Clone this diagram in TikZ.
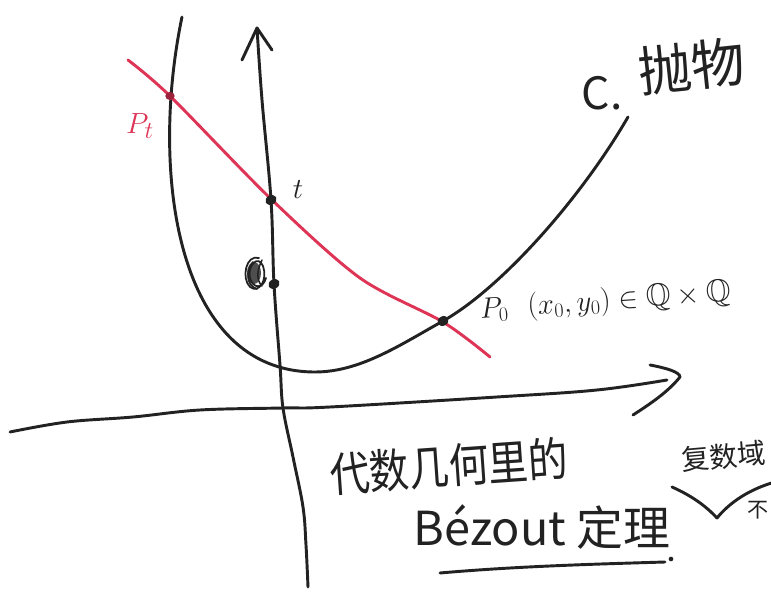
\documentclass[tikz,border=0pt]{standalone}
\usepackage{fontspec}
\usepackage{amssymb}
\newfontfamily\cjk{Noto Sans CJK SC}
\definecolor{ink}{RGB}{34,34,34}
\definecolor{redink}{RGB}{222,52,86}
\usetikzlibrary{shapes.geometric}
\tikzset{
  pen/.style={line width=2.5pt, draw=ink, line cap=round, line join=round},
  redpen/.style={line width=2.5pt, draw=redink, line cap=round, line join=round},
  dotmark/.style={ellipse, fill=ink, inner sep=0pt, minimum width=10pt, minimum height=8pt, rotate=30},
  lbl/.style={inner sep=0pt, text=ink},
}
\begin{document}
\begin{tikzpicture}[x=0.03cm,y=-0.03cm]
\useasboundingbox (0,0) rectangle (771,597);
\fill[white] (0,0) rectangle (771,597);
\clip (0,0) rectangle (771,597);

% named points
\coordinate (ytip) at (257,28);
\coordinate (xtip) at (680,377);
\coordinate (cT) at (271,200);
\coordinate (cQ) at (274,284);
\coordinate (cP0) at (443,321);
\coordinate (cPt) at (170,96);
\coordinate (ctop) at (182,17);
\coordinate (cmin) at (315,372);
\coordinate (cend) at (628,117);

% x-axis
\draw[pen] plot[smooth, tension=0.6] coordinates {(10,432) (67,422) (133,417) (200,410) (283,408) (330,407) (497,397) (597,390) (667,380)};
\draw[pen] (650,365) .. controls (666,368) and (680,372) .. (xtip) .. controls (668,392) and (650,404) .. (633,415);

% y-axis
\draw[pen] plot[smooth, tension=0.6] coordinates {(308,587) (306,545) (303,507) (293,457) (283,408) (280,365) (274,284) (271,200) (262,100) (257,28)};
\draw[pen] (242,60) -- (ytip) -- (272,50);

% parabola C
\draw[pen] (ctop) .. controls (150,170) and (175,372) .. (cmin)
  .. controls (360,372) and (400,345) .. (cP0)
  .. controls (500,289) and (580,200) .. (cend);

% red line
\draw[redpen] plot[smooth, tension=0.5] coordinates {(128,60) (170,96) (271,199) (360,278) (443,322) (490,357)};

% dots
\node[dotmark] (t) at (cT) {};
\node[dotmark] (q) at (cQ) {};
\node[dotmark] (P0) at (cP0) {};
\node[ellipse, fill=redink!70!black, inner sep=0pt, minimum width=8pt, minimum height=7pt] (Pt) at (cPt) {};

% scribble near lower dot
\fill[ink!80] (254,273) ellipse (7 and 11);
\draw[pen, line width=1.5pt] (259,258) .. controls (246,254) and (241,278) .. (250,287) .. controls (259,294) and (268,280) .. (263,266) .. controls (258,254) and (247,266) .. (250,278) .. controls (253,289) and (263,289) .. (266,278);
\draw[pen, line width=1.5pt] (253,262) .. controls (245,272) and (247,286) .. (257,289);
\draw[pen, line width=1.3pt] (262,260) .. controls (257,270) and (256,280) .. (262,286);

% labels
\node[lbl, text=redink, font=\fontsize{30}{32}\selectfont] (ptlabel) at (140,126) {$P_t$};
\node[lbl, font=\fontsize{30}{32}\selectfont] (tlabel) at (298,190) {$t$};
\node[lbl, anchor=west, rotate=4, font=\fontsize{27}{30}\selectfont] (p0label) at (480,311) {$P_0\ \ (x_0,y_0)\in\mathbb{Q}\times\mathbb{Q}$};
\node[lbl, font=\cjk\fontsize{38}{42}\selectfont] (clabel) at (602,93) {C.};
\node[lbl, anchor=west, rotate=6, font=\cjk\fontsize{46}{50}\selectfont] (cname) at (638,72) {抛物};

\node[lbl, rotate=4, xscale=0.85, font=\cjk\fontsize{40}{44}\selectfont] (alg) at (449,466) {代数几何里的};
\node[lbl, font=\cjk\fontsize{40}{44}\selectfont] (bez) at (542,527) {Bézout 定理};
\draw[pen] (440,573) .. controls (520,566) and (600,564) .. (665,562);
\fill[ink] (671,559) circle (2pt);
\node[lbl, anchor=west, rotate=5, font=\cjk\fontsize{24}{28}\selectfont] (cx) at (681,460) {复数域};
\draw[pen] (672,487) .. controls (690,495) and (705,505) .. (717,518) .. controls (730,502) and (750,489) .. (775,482);
\node[lbl, font=\cjk\fontsize{18}{20}\selectfont] (bu) at (758,510) {不};
\end{tikzpicture}
\end{document}
